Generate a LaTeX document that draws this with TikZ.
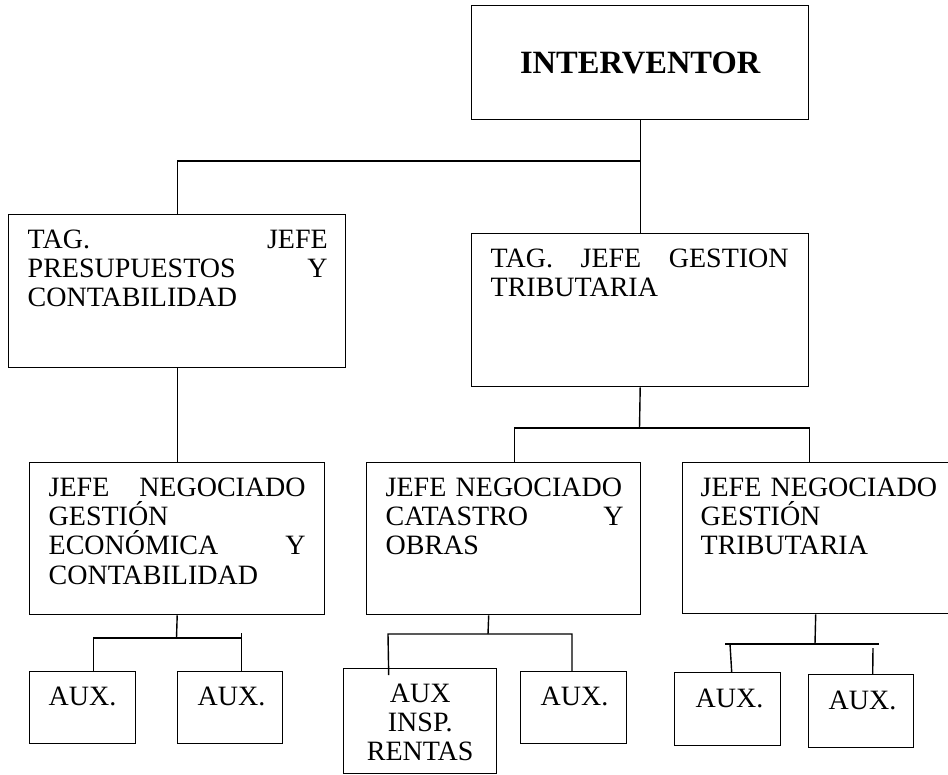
\documentclass[tikz,border=0pt]{standalone}
\usepackage{fontspec}
\setmainfont{Liberation Serif}
\usetikzlibrary{calc}

\begin{document}
\begin{tikzpicture}[x=1pt, y=-1pt, line width=1.4pt]
    % Estilos
    \tikzstyle{caja}=[draw, rectangle, inner sep=0pt, anchor=north west]
    \tikzstyle{texto}=[inner sep=0pt, anchor=north west, align=left, font=\fontsize{28}{29.3}\selectfont]
    \useasboundingbox (0,0) rectangle (948,774);

    % Interventor
    \node[caja, minimum width=337pt, minimum height=114pt] (interv) at (471,5) {};
    \node[inner sep=0pt, font=\bfseries\fontsize{32.5}{34}\selectfont] (interv-t) at (interv.center) {INTERVENTOR};

    % Jefes TAG
    \node[caja, minimum width=337pt, minimum height=153pt] (tagpre) at (8,214) {};
    \node[texto, text width=300pt] (tagpre-t) at ($(tagpre.north west)+(19,15)$) {TAG.\hfill JEFE\\PRESUPUESTOS\hfill Y\\CONTABILIDAD};
    \node[caja, minimum width=337pt, minimum height=153pt] (taggest) at (471,233) {};
    \node[texto, text width=298pt] (taggest-t) at ($(taggest.north west)+(19,15)$) {TAG.\hfill JEFE\hfill GESTION\\TRIBUTARIA};

    % Jefes de negociado
    \node[caja, minimum width=295pt, minimum height=152pt] (negeco) at (29,462) {};
    \node[texto, text width=257pt] (negeco-t) at ($(negeco.north west)+(19,15)$) {JEFE\hfill NEGOCIADO\\GESTIÓN\\ECONÓMICA\hfill Y\\CONTABILIDAD};
    \node[caja, minimum width=274pt, minimum height=152pt] (negcat) at (366,462) {};
    \node[texto, text width=238pt] (negcat-t) at ($(negcat.north west)+(19,15)$) {JEFE NEGOCIADO\\CATASTRO\hfill Y\\OBRAS};
    \node[caja, minimum width=274pt, minimum height=151pt] (negtri) at (682,462) {};
    \node[texto, text width=238pt] (negtri-t) at ($(negtri.north west)+(18,15)$) {JEFE NEGOCIADO\\GESTIÓN\\TRIBUTARIA};

    % Auxiliares
    \node[caja, minimum width=106pt, minimum height=72pt] (aux1) at (29,671) {};
    \node[texto] (aux1-t) at ($(aux1.north west)+(19,15)$) {AUX.};
    \node[caja, minimum width=105pt, minimum height=72pt] (aux2) at (177,671) {};
    \node[texto] (aux2-t) at ($(aux2.north west)+(20,15)$) {AUX.};
    \node[caja, minimum width=153pt, minimum height=105pt] (auxinsp) at (343,668) {};
    \node[texto, anchor=north, align=center] (auxinsp-t) at ($(auxinsp.north)+(0,15)$) {AUX\\INSP.\\RENTAS};
    \node[caja, minimum width=106pt, minimum height=72pt] (aux3) at (520,671) {};
    \node[texto] (aux3-t) at ($(aux3.north west)+(20,15)$) {AUX.};
    \node[caja, minimum width=106pt, minimum height=73pt] (aux4) at (674,672) {};
    \node[texto] (aux4-t) at ($(aux4.north west)+(21,16)$) {AUX.};
    \node[caja, minimum width=105pt, minimum height=73pt] (aux5) at (808,674) {};
    \node[texto] (aux5-t) at ($(aux5.north west)+(20,16)$) {AUX.};

    % Conexiones superiores
    \coordinate (n0) at (639.5,161);
    \draw (interv.south) -- (taggest.north);
    \draw (n0) -| (tagpre.north);
    \draw (tagpre.south) -- (negeco.north);
    \coordinate (n1) at (639.5,428);
    \draw (taggest.south) -- (n1);
    \draw ([xshift=11pt]negcat.north) |- (n1) -| ([xshift=-10pt]negtri.north);

    % Conexiones con auxiliares
    \coordinate (n2) at (176.5,638);
    \coordinate (n3) at (241,638);
    \draw (negeco.south) -- (n2);
    \draw ([xshift=11pt]aux1.north) |- (n3);
    \draw ([xshift=11.5pt]aux2.north) -- ++(0,-38);

    \coordinate (n4) at (488,634);
    \coordinate (n5) at (388,634);
    \coordinate (n6) at (572,634);
    \draw ([xshift=-15pt]negcat.south) -- (n4);
    \draw ([xshift=-31.5pt,yshift=-7pt]auxinsp.north) -- (n5) -- (n6) -- (aux3.north -| n6);

    \coordinate (n7) at (815,644);
    \coordinate (n8) at (725,644);
    \coordinate (n9) at (879,644);
    \coordinate (n10) at (730,644);
    \coordinate (n11) at (873,648);
    \draw ([xshift=-4pt]negtri.south) -- (n7);
    \draw (n8) -- (n9);
    \draw ([xshift=4pt]aux4.north) -- (n10);
    \draw ([xshift=11.5pt]aux5.north) -- (n11);
\end{tikzpicture}
\end{document}
